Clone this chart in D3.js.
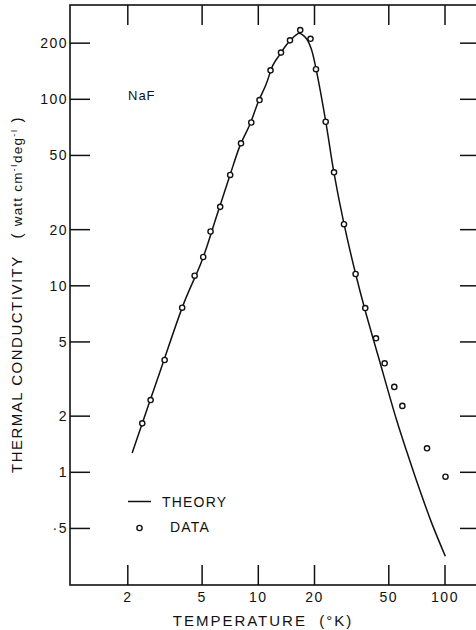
<!DOCTYPE html>
<html>
<head>
<meta charset="utf-8">
<script src="https://cdn.jsdelivr.net/npm/d3@7"></script>
<style>
  body { margin: 0; background: #fff; }
  text { font-family: "Liberation Sans", "DejaVu Sans", sans-serif; fill: #111; }
</style>
</head>
<body>
<script>
// measured data (circles)
const dataT = [2.39, 2.65, 3.15, 3.91, 4.56, 5.07, 5.55, 6.25, 7.07, 8.08, 9.17, 10.15, 11.63, 13.23, 14.78, 16.77, 19.04, 20.37, 22.96, 25.44, 28.77, 33.2, 37.4, 42.7, 47.5, 53.5, 59.1, 80.1, 100.6];
const dataK = [1.83, 2.44, 4.0, 7.63, 11.33, 14.27, 19.55, 26.5, 39.3, 58.1, 75.1, 99.1, 143, 178, 207, 235, 211, 145, 75.8, 40.6, 21.4, 11.57, 7.6, 5.23, 3.84, 2.87, 2.27, 1.345, 0.947];

// theory curve
const theoryT = [2.11, 3, 4, 5, 6, 7, 8, 9, 10, 11, 12, 13, 14, 15, 16, 16.5, 17.2, 18.2, 19.3, 20.4, 23, 25.4, 28.8, 33.2, 37.3, 43.9, 55.1, 61.8, 69.5, 84.9, 100.4];
const theoryK = [1.27, 3.55, 8.1, 13.7, 23.9, 38.3, 56.8, 73, 97, 120, 153, 173, 193, 209, 222, 226, 222, 210, 184, 145, 75.5, 40.6, 21.4, 11.6, 7.42, 4.19, 1.9, 1.33, 0.935, 0.534, 0.355];

const xTicks = [2, 5, 10, 20, 50, 100];
const xTickLabels = ["2", "5", "10", "20", "50", "100"];
const yTicks = [200, 100, 50, 20, 10, 5, 2, 1, 0.5];
const yTickLabels = ["200", "100", "50", "20", "10", "5", "2", "1", "·5"];

const width = 476, height = 630;
const frame = { left: 70, top: 5, right: 480, bottom: 585 };
const tickLen = 20;

const x = d3.scaleLog().domain([1, 100]).range([71.6, 445]);
const y = d3.scaleLog().domain([1, 100]).range([472.3, 99.3]);

const svg = d3.select(document.body).append("svg")
  .attr("width", width)
  .attr("height", height);

// frame
svg.append("rect")
  .attr("x", frame.left).attr("y", frame.top)
  .attr("width", frame.right - frame.left).attr("height", frame.bottom - frame.top)
  .attr("fill", "none").attr("stroke", "#111").attr("stroke-width", 1.6);

// x ticks, top and bottom, inward
const xt = svg.append("g").attr("stroke", "#111").attr("stroke-width", 1.5);
xt.selectAll(".xb").data(xTicks).join("line")
  .attr("x1", d => x(d)).attr("x2", d => x(d))
  .attr("y1", frame.bottom).attr("y2", frame.bottom - tickLen);
xt.selectAll(".xt").data(xTicks).join("line")
  .attr("x1", d => x(d)).attr("x2", d => x(d))
  .attr("y1", frame.top).attr("y2", frame.top + tickLen);

// y ticks, left and right
const yt = svg.append("g").attr("stroke", "#111").attr("stroke-width", 1.5);
yt.selectAll(".yl").data(yTicks).join("line")
  .attr("x1", frame.left).attr("x2", frame.left + tickLen)
  .attr("y1", d => y(d)).attr("y2", d => y(d));
yt.selectAll(".yr").data(yTicks).join("line")
  .attr("x1", frame.right).attr("x2", frame.right - tickLen)
  .attr("y1", d => y(d)).attr("y2", d => y(d));

// tick labels
svg.append("g")
  .selectAll("text").data(xTicks).join("text")
    .attr("x", (d, i) => x(d))
    .attr("y", 602)
    .attr("text-anchor", "middle")
    .attr("font-size", 14)
    .attr("letter-spacing", 1.5)
    .text((d, i) => xTickLabels[i]);

svg.append("g")
  .selectAll("text").data(yTicks).join("text")
    .attr("x", 68)
    .attr("y", d => y(d) + 5)
    .attr("text-anchor", "end")
    .attr("font-size", 14)
    .attr("letter-spacing", 1.5)
    .text((d, i) => yTickLabels[i]);

// axis titles
svg.append("text")
  .attr("x", 263).attr("y", 626)
  .attr("text-anchor", "middle")
  .attr("font-size", 15)
  .attr("letter-spacing", 2)
  .style("white-space", "pre")
  .text("TEMPERATURE  (°K)");

const yTitle = svg.append("text")
  .attr("transform", "translate(22,473) rotate(-90)")
  .attr("font-size", 15)
  .attr("letter-spacing", 1.5)
  .style("white-space", "pre");
yTitle.append("tspan").text("THERMAL CONDUCTIVITY   ( ");
yTitle.append("tspan").attr("font-size", 13.5).attr("letter-spacing", 1.2).text("watt cm");
yTitle.append("tspan").attr("font-size", 9).attr("dy", -5).text("-I");
yTitle.append("tspan").attr("font-size", 13.5).attr("letter-spacing", 1.2).attr("dy", 5).text("deg");
yTitle.append("tspan").attr("font-size", 9).attr("dy", -5).text("-I");
yTitle.append("tspan").attr("dy", 5).text(" )");

svg.append("text")
  .attr("x", 128).attr("y", 99.5)
  .attr("font-size", 13)
  .attr("letter-spacing", 1)
  .text("NaF");

// theory curve
const line = d3.line()
  .x(d => x(d[0]))
  .y(d => y(d[1]))
  .curve(d3.curveCatmullRom);

svg.append("path")
  .datum(d3.zip(theoryT, theoryK))
  .attr("d", line)
  .attr("fill", "none")
  .attr("stroke", "#111")
  .attr("stroke-width", 1.5);

// data circles
svg.append("g")
  .selectAll("circle")
  .data(d3.zip(dataT, dataK))
  .join("circle")
    .attr("cx", d => x(d[0]))
    .attr("cy", d => y(d[1]))
    .attr("r", 2.6)
    .attr("fill", "#fff")
    .attr("stroke", "#111")
    .attr("stroke-width", 1.4);

// legend
const lg = svg.append("g");
lg.append("line")
  .attr("x1", 128).attr("x2", 151).attr("y1", 501.5).attr("y2", 501.5)
  .attr("stroke", "#111").attr("stroke-width", 1.5);
lg.append("text").attr("x", 162).attr("y", 506.5)
  .attr("font-size", 14).attr("letter-spacing", 1.2).text("THEORY");
lg.append("circle")
  .attr("cx", 139.5).attr("cy", 528)
  .attr("r", 2.6).attr("fill", "#fff").attr("stroke", "#111").attr("stroke-width", 1.4);
lg.append("text").attr("x", 170).attr("y", 532)
  .attr("font-size", 14).attr("letter-spacing", 1.2).text("DATA");
</script>
</body>
</html>
